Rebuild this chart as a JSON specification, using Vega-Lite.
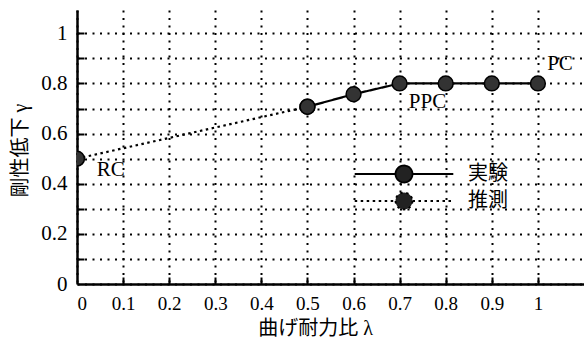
{
  "$schema": "https://vega.github.io/schema/vega-lite/v6.json",
  "autosize": {"type": "none"},
  "padding": {"left": 77, "top": 10, "right": 0, "bottom": 54},
  "width": 507,
  "height": 274,
  "background": "white",
  "config": {
    "view": {"stroke": null},
    "font": "Liberation Serif"
  },
  "datasets": {
    "main": [
      {"lambda": 0.0, "gamma": 0.5, "series": "推測"},
      {"lambda": 0.5, "gamma": 0.707, "series": "推測"},
      {"lambda": 0.5, "gamma": 0.707, "series": "実験"},
      {"lambda": 0.6, "gamma": 0.757, "series": "実験"},
      {"lambda": 0.7, "gamma": 0.8, "series": "実験"},
      {"lambda": 0.8, "gamma": 0.8, "series": "実験"},
      {"lambda": 0.9, "gamma": 0.8, "series": "実験"},
      {"lambda": 1.0, "gamma": 0.8, "series": "実験"}
    ],
    "notes": [
      {"lambda": 0.043, "gamma": 0.453, "label": "RC"},
      {"lambda": 0.72, "gamma": 0.725, "label": "PPC"},
      {"lambda": 1.02, "gamma": 0.878, "label": "PC"}
    ]
  },
  "resolve": {"axis": {"x": "independent", "y": "independent"}},
  "layer": [
    {
      "data": {"name": "main"},
      "mark": {"type": "line", "color": "#000", "strokeWidth": 2.2, "strokeCap": "butt", "clip": true},
      "encoding": {
        "x": {
          "field": "lambda", "type": "quantitative",
          "scale": {"domain": [0, 1.1], "nice": false, "zero": false},
          "axis": {
            "orient": "bottom",
            "values": [0, 0.1, 0.2, 0.3, 0.4, 0.5, 0.6, 0.7, 0.8, 0.9, 1],
            "format": ".1~f",
            "domainColor": "#000", "domainWidth": 2.5,
            "ticks": false,
            "grid": true, "gridColor": "#000", "gridWidth": 2, "gridDash": [2, 5.5],
            "labelFont": "Liberation Serif", "labelColor": "#000",
            "labelFontSize": 19, "labelPadding": 19, "labelBaseline": "middle",
            "title": "曲げ耐力比 λ", "titleFont": "Liberation Serif, Noto Sans CJK JP", "titleFontWeight": "normal", "titleColor": "#000", "titleFontSize": 20,
            "titleX": 238, "titleY": 44, "titleAlign": "center", "titleBaseline": "middle"
          }
        },
        "y": {
          "field": "gamma", "type": "quantitative",
          "scale": {"domain": [0, 1.093], "nice": false, "zero": false},
          "axis": {
            "orient": "left",
            "values": [0, 0.1, 0.2, 0.3, 0.4, 0.5, 0.6, 0.7, 0.8, 0.9, 1],
            "labelExpr": "round(datum.value*10) % 2 == 0 ? format(datum.value, '.1~f') : ''",
            "domainColor": "#000", "domainWidth": 2.5,
            "ticks": false,
            "grid": true, "gridColor": "#000", "gridWidth": 2, "gridDash": [2, 5.5],
            "labelFont": "Liberation Serif", "labelColor": "#000",
            "labelFontSize": 21, "labelPadding": 10,
            "title": "剛性低下 γ", "titleFont": "Liberation Serif, Noto Sans CJK JP", "titleFontWeight": "normal", "titleColor": "#000", "titleFontSize": 20,
            "titleX": -57, "titleY": 140, "titleAlign": "center", "titleBaseline": "middle", "titleAngle": -90
          }
        },
        "detail": {"field": "series"},
        "strokeDash": {
          "field": "series", "type": "nominal",
          "scale": {"domain": ["実験", "推測"], "range": [[1, 0], [2.5, 3.5]]},
          "legend": {
            "title": null,
            "orient": "none", "legendX": 317, "legendY": 154,
            "padding": 0, "rowPadding": 1,
            "symbolType": "M-5.8,0H-1M1,0H5.8M1,0A1,1,0,1,1,-1,0A1,1,0,1,1,1,0Z",
            "symbolSize": 289, "symbolStrokeWidth": 1.8, "symbolStrokeColor": "#000", "symbolFillColor": "#222",
            "labelFont": "Noto Sans CJK JP", "labelFontSize": 20, "labelColor": "#000", "labelOffset": 54,
            "encode": {"symbols": {"update": {"fill": {"value": "#222"}, "stroke": {"value": "#000"}}}}
          }
        }
      }
    },
    {
      "data": {"name": "main"},
      "mark": {"type": "point", "shape": "circle", "filled": true, "fill": "#333", "stroke": "#000", "strokeWidth": 1.5, "size": 220, "opacity": 1, "clip": true},
      "encoding": {
        "x": {
          "field": "lambda", "type": "quantitative",
          "axis": {
            "orient": "bottom", "offset": -7,
            "values": [0.1, 0.2, 0.3, 0.4, 0.5, 0.6, 0.7, 0.8, 0.9, 1],
            "domain": false, "labels": false, "grid": false, "title": null,
            "ticks": true, "tickSize": 7, "tickWidth": 2, "tickColor": "#000"
          }
        },
        "y": {
          "field": "gamma", "type": "quantitative",
          "axis": {
            "orient": "left", "offset": -7,
            "values": [0.1, 0.2, 0.3, 0.4, 0.5, 0.6, 0.7, 0.8, 0.9, 1],
            "domain": false, "labels": false, "grid": false, "title": null,
            "ticks": true, "tickSize": 7, "tickWidth": 2, "tickColor": "#000"
          }
        }
      }
    },
    {
      "data": {"name": "notes"},
      "mark": {"type": "text", "font": "Liberation Serif", "fontSize": 21, "align": "left", "baseline": "middle", "color": "#000"},
      "encoding": {
        "x": {"field": "lambda", "type": "quantitative", "axis": null},
        "y": {"field": "gamma", "type": "quantitative", "axis": null},
        "text": {"field": "label"}
      }
    }
  ]
}
